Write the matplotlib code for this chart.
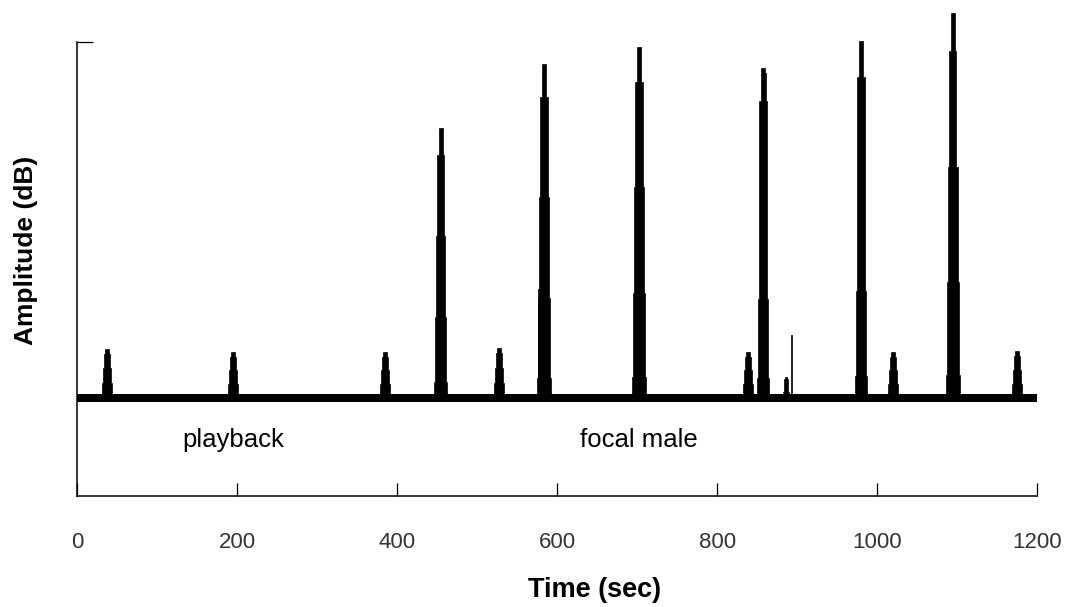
import matplotlib
matplotlib.use('Agg')
import matplotlib.pyplot as plt

plt.rcParams['font.family'] = ['Liberation Sans', 'DejaVu Sans']

# call peaks (time in sec, peak amplitude on an arbitrary dB scale)
peak_times = [36.8, 194.6, 384.6, 454.3, 527.1, 583.4, 702.1, 838.4, 857.1, 885.9, 979.6, 1019.6, 1094.3, 1174.6]
peak_heights = [32.4, 31.7, 31.7, 81.1, 32.6, 95.2, 98.9, 31.7, 94.3, 26.2, 100.2, 31.7, 106.4, 31.9]
peak_widths = [14, 14, 14, 16, 14, 17, 17, 14, 16, 8, 16, 14, 17, 14]

# single thin spikes
spike_times = [577.1, 860.9, 893.4]
spike_heights = [45.6, 93.2, 35.4]

noise_floor = 21.6
x_ticks = [0, 200, 400, 600, 800, 1000, 1200]

# stepped outline used for every call (fraction of height, fraction of half width)
step_frac = [0.06, 0.30, 0.60, 0.90, 1.0]
step_half = [1.0, 0.85, 0.7, 0.55, 0.32]

fig = plt.figure(figsize=(10.65, 6.07), dpi=100)
ax = fig.add_axes([77.3 / 1065, 111 / 607, 960 / 1065, 491 / 607])

# noise floor band
ax.fill_between([0, 1200], noise_floor - 0.9, noise_floor + 0.9, color='black', lw=0)

for t, h, w in zip(peak_times, peak_heights, peak_widths):
    xs, ys = [], []
    y0 = noise_floor
    for f, hw in zip(step_frac, step_half):
        y1 = noise_floor + f * (h - noise_floor)
        xs += [t - hw * w / 2, t - hw * w / 2]
        ys += [y0, y1]
        y0 = y1
    xr = [2 * t - v for v in xs[::-1]]
    yr = ys[::-1]
    ax.fill(xs + xr, ys + yr, color='black', lw=0.5, clip_on=False)

ax.vlines(spike_times, noise_floor, spike_heights, color='black', lw=1.2)

ax.set_xlim(0, 1200)
ax.set_ylim(0, 108.1)
ax.spines['top'].set_visible(False)
ax.spines['right'].set_visible(False)
ax.spines['left'].set_bounds(0, 100)
for s in ['left', 'bottom']:
    ax.spines[s].set_linewidth(1.1)
ax.set_xticks(x_ticks)
ax.set_xticklabels([str(v) for v in x_ticks])
ax.set_yticks([100])
ax.set_yticklabels([''])
ax.tick_params(axis='x', direction='in', length=9.5, width=0.9, pad=26,
               labelsize=16, labelcolor='#333333')
ax.tick_params(axis='y', direction='in', length=11.5, width=0.9)

ax.text(195, 12.3, 'playback', ha='center', va='center', fontsize=18.5)
ax.text(702, 12.3, 'focal male', ha='center', va='center', fontsize=18.5)

fig.text(595 / 1065, 1 - 590 / 607, 'Time (sec)', ha='center', va='center',
         fontsize=19.5, fontweight='bold')
fig.text(26 / 1065, 1 - 250 / 607, 'Amplitude (dB)', ha='center', va='center',
         rotation=90, fontsize=19, fontweight='bold')

fig.savefig('out.png', dpi=100)
